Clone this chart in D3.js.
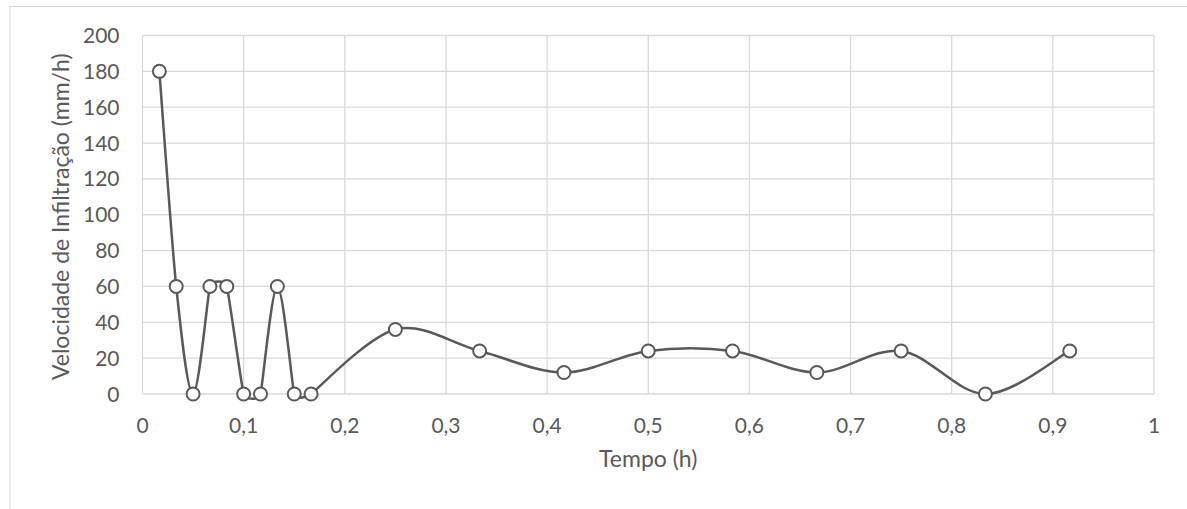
<!DOCTYPE html>
<html>
<head>
<meta charset="utf-8">
<script src="https://cdn.jsdelivr.net/npm/d3@7"></script>
<style>
  body { margin: 0; background: #fff; }
  text { font-family: Lato, "Open Sans", sans-serif; fill: #595959; }
</style>
</head>
<body>
<div id="chart"></div>
<script>
const width = 1187;
const height = 509;
const margin = { top: 35.5, right: 33, bottom: 115, left: 142.5 };

// time (h) and infiltration rate (mm/h)
const tempo = [1/60, 2/60, 3/60, 4/60, 5/60, 6/60, 7/60, 8/60, 9/60, 10/60,
               15/60, 20/60, 25/60, 30/60, 35/60, 40/60, 45/60, 50/60, 55/60];
const velocidade = [180, 60, 0, 60, 60, 0, 0, 60, 0, 0,
                    36, 24, 12, 24, 24, 12, 24, 0, 24];
const xTicks = [0, 0.1, 0.2, 0.3, 0.4, 0.5, 0.6, 0.7, 0.8, 0.9, 1];
const yTicks = [0, 20, 40, 60, 80, 100, 120, 140, 160, 180, 200];

const data = tempo.map((t, i) => ({ x: t, y: velocidade[i] }));

const svg = d3.select("#chart")
    .append("svg")
    .attr("width", width)
    .attr("height", height);

// chart area border
svg.append("rect")
    .attr("x", 10).attr("y", 6.5)
    .attr("width", width).attr("height", height)
    .attr("fill", "none")
    .attr("stroke", "#d9d9d9")
    .attr("stroke-width", 1);

const x = d3.scaleLinear().domain([0, 1]).range([margin.left, width - margin.right]);
const y = d3.scaleLinear().domain([0, 200]).range([height - margin.bottom, margin.top]);

const fmt = d => String(d).replace(".", ",");

// gridlines
svg.append("g").selectAll("line")
    .data(yTicks).enter().append("line")
    .attr("x1", x(0)).attr("x2", x(1))
    .attr("y1", d => y(d)).attr("y2", d => y(d))
    .attr("stroke", "#d9d9d9").attr("stroke-width", 1.3);

svg.append("g").selectAll("line")
    .data(xTicks).enter().append("line")
    .attr("x1", d => x(d)).attr("x2", d => x(d))
    .attr("y1", y(0)).attr("y2", y(200))
    .attr("stroke", "#d9d9d9").attr("stroke-width", 1.3);

// tick labels
svg.append("g").selectAll("text")
    .data(yTicks).enter().append("text")
    .attr("x", x(0) - 23)
    .attr("y", d => y(d) + 7.5)
    .attr("text-anchor", "end")
    .style("font-size", "21px")
    .text(d => d);

svg.append("g").selectAll("text")
    .data(xTicks).enter().append("text")
    .attr("x", d => x(d))
    .attr("y", y(0) + 39)
    .attr("text-anchor", "middle")
    .style("font-size", "21px")
    .text(fmt);

// axis titles
svg.append("text")
    .attr("x", (x(0) + x(1)) / 2)
    .attr("y", y(0) + 73)
    .attr("text-anchor", "middle")
    .style("font-size", "23px")
    .text("Tempo (h)");

svg.append("text")
    .attr("transform", `translate(69, ${(y(0) + y(200)) / 2 + 2}) rotate(-90)`)
    .attr("text-anchor", "middle")
    .style("font-size", "23px")
    .text("Velocidade de Infiltração (mm/h)");

// Excel-like smoothing: cubic bezier, tangent (next - prev) / 6,
// shortened where neighbouring segments are short
function smoothPath(pts) {
    const p = d3.path();
    const n = pts.length;
    const dist = (a, b) => Math.hypot(b[0] - a[0], b[1] - a[1]);
    const tan = pts.map((pt, i) => {
        const a = pts[Math.max(i - 1, 0)];
        const b = pts[Math.min(i + 1, n - 1)];
        let tx = (b[0] - a[0]) / 6, ty = (b[1] - a[1]) / 6;
        const len = Math.hypot(tx, ty);
        const dmin = Math.min(
            i > 0 ? dist(pts[i - 1], pt) : Infinity,
            i < n - 1 ? dist(pt, pts[i + 1]) : Infinity);
        const cap = dmin * 0.4;
        if (len > cap && len > 0) { tx *= cap / len; ty *= cap / len; }
        return [tx, ty];
    });
    p.moveTo(pts[0][0], pts[0][1]);
    for (let i = 0; i < n - 1; i++) {
        p.bezierCurveTo(
            pts[i][0] + tan[i][0], pts[i][1] + tan[i][1],
            pts[i + 1][0] - tan[i + 1][0], pts[i + 1][1] - tan[i + 1][1],
            pts[i + 1][0], pts[i + 1][1]);
    }
    return p.toString();
}

svg.append("path")
    .datum(data)
    .attr("d", d => smoothPath(d.map(v => [x(v.x), y(v.y)])))
    .attr("fill", "none")
    .attr("stroke", "#595959")
    .attr("stroke-width", 2.5);

svg.append("g").selectAll("circle")
    .data(data).enter().append("circle")
    .attr("cx", d => x(d.x))
    .attr("cy", d => y(d.y))
    .attr("r", 6.5)
    .attr("fill", "#fff")
    .attr("stroke", "#595959")
    .attr("stroke-width", 2);
</script>
</body>
</html>
